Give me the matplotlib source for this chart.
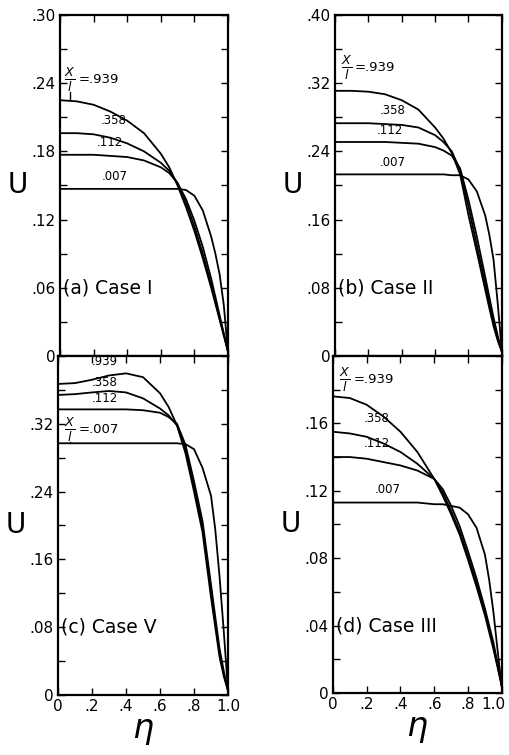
import numpy as np
import matplotlib
matplotlib.use('Agg')
import matplotlib.pyplot as plt
import matplotlib.transforms as mtransforms


# axial positions X/l and radial grid
XL = ['.939', '.358', '.112', '.007']
ETA = [0, .1, .2, .3, .4, .5, .6, .65, .7, .75, .8, .85, .9, .925, .95, .975, 1.0]

# (a) Case I
U_A = {
	'.939': [.225, .224, .221, .215, .207, .196, .178, .166, .150, .131, .110, .086, .060, .046, .032, .018, .004],
	'.358': [.196, .196, .195, .192, .187, .180, .170, .163, .152, .135, .114, .090, .063, .048, .033, .019, .004],
	'.112': [.177, .177, .177, .176, .175, .172, .166, .161, .152, .138, .119, .096, .068, .052, .036, .020, .004],
	'.007': [.147, .147, .147, .147, .147, .147, .147, .147, .147, .146, .141, .128, .105, .090, .072, .045, .003],
}
# (b) Case II
U_B = {
	'.939': [.311, .311, .310, .307, .300, .289, .268, .255, .238, .213, .165, .122, .078, .056, .035, .018, .005],
	'.358': [.273, .273, .273, .272, .271, .268, .259, .251, .240, .218, .175, .130, .085, .062, .040, .021, .005],
	'.112': [.251, .251, .251, .251, .250, .249, .245, .241, .235, .220, .183, .140, .093, .069, .045, .024, .005],
	'.007': [.213, .213, .213, .213, .213, .213, .213, .213, .212, .212, .207, .193, .165, .142, .113, .062, .005],
}
# (c) Case V
U_C = {
	'.939': [.367, .368, .372, .377, .3795, .375, .356, .340, .318, .285, .240, .192, .115, .080, .045, .022, .005],
	'.358': [.354, .355, .357, .3587, .357, .350, .338, .330, .318, .290, .245, .198, .122, .086, .050, .025, .005],
	'.112': [.337, .337, .337, .337, .337, .336, .333, .328, .320, .295, .252, .205, .130, .092, .055, .028, .005],
	'.007': [.297, .297, .297, .297, .297, .297, .297, .297, .297, .296, .290, .268, .235, .195, .140, .075, .005],
}
# (d) Case III
U_D = {
	'.939': [.176, .175, .171, .164, .155, .143, .127, .117, .106, .094, .079, .063, .046, .036, .026, .015, .004],
	'.358': [.155, .154, .152, .148, .143, .136, .127, .119, .108, .096, .081, .065, .048, .038, .028, .016, .004],
	'.112': [.140, .140, .139, .137, .135, .132, .127, .121, .111, .099, .084, .068, .050, .040, .030, .017, .004],
	'.007': [.113, .113, .113, .113, .113, .113, .112, .112, .111, .110, .106, .098, .082, .067, .048, .025, .003],
}

PANELS = [
	# data, rect, ymax, ystep, ylabels, title, title_y
	(U_A, [0.1179, 0.5285, 0.330, 0.4517], 0.30, 0.03, ['0', '.06', '.12', '.18', '.24', '.30'], '(a) Case I', 0.06),
	(U_B, [0.658, 0.5285, 0.328, 0.4517], 0.40, 0.04, ['0', '.08', '.16', '.24', '.32', '.40'], '(b) Case II', 0.08),
	(U_C, [0.114, 0.0795, 0.334, 0.449], 0.40, 0.04, ['0', '.08', '.16', '.24', '.32', ''], '(c) Case V', 0.08),
	(U_D, [0.654, 0.0821, 0.332, 0.4465], 0.20, 0.02, ['0', '.04', '.08', '.12', '.16', ''], '(d) Case III', 0.04),
]

# curve labels: (x, y) per panel
LABEL_POS = [
	{'.358': (.24, .2015), '.112': (.22, .1825), '.007': (.25, .152)},
	{'.358': (.27, .280), '.112': (.25, .257), '.007': (.27, .219)},
	{'.939': (.20, .386), '.358': (.20, .361), '.112': (.20, .342)},
	{'.358': (.18, .159), '.112': (.18, .144), '.007': (.25, .117)},
]
# X/l annotations: (label, x, y, curve value)
XL_NOTE = [
	('.939', .06, .243, .225),
	('.939', .07, .338, None),
	('.007', .07, .313, .297),
	('.939', .07, .186, None),
]

fig = plt.figure(figsize = (5.09, 7.55), dpi = 100)

for i, (data, rect, ymax, ystep, ylabels, title, title_y) in enumerate(PANELS):
	ax = fig.add_axes(rect)
	for key in XL:
		ax.plot(ETA, data[key], color = 'black', lw = 1.3)

	ax.set_xlim(0, 1.0)
	ax.set_ylim(0, ymax)
	ax.set_xticks([0, .2, .4, .6, .8, 1.0])
	ax.set_yticks(np.arange(0, ymax + 1e-9, 2 * ystep))
	ax.set_yticks(np.arange(0, ymax + 1e-9, ystep), minor = True)
	ax.set_yticklabels(ylabels, fontsize = 11)
	if i >= 2:
		ax.set_xticklabels(['0', '.2', '.4', '.6', '.8', '1.0'], fontsize = 11)
		ax.set_xlabel(r'$\eta$', fontsize = 24, labelpad = 0)
	else:
		ax.set_xticklabels([])
	ax.tick_params(which = 'both', direction = 'in', top = True, right = True, length = 5, width = 1, pad = 3)
	for sp in ax.spines.values():
		sp.set_linewidth(1.6)
	ax.set_ylabel('U', fontsize = 20, rotation = 0, labelpad = 10, va = 'center')

	if i == 3:
		# keep "1.0" inside the figure
		last = ax.get_xticklabels()[-1]
		last.set_transform(last.get_transform() + mtransforms.ScaledTranslation(-6 / 72, 0, fig.dpi_scale_trans))

	ax.text(0.02, title_y, title, fontsize = 13.5, va = 'center')

	for key, (x, y) in LABEL_POS[i].items():
		ax.text(x, y, key, fontsize = 8.5, va = 'bottom', ha = 'left')

	lab, x, y, u = XL_NOTE[i]
	ax.text(x, y, r'$\frac{X}{l}$', fontsize = 13, ha = 'center', va = 'center')
	ax.text(x + 0.05, y, '=' + lab, fontsize = 9.5, ha = 'left', va = 'center')
	if u is not None:
		ax.plot([x, x], [u, y - ystep * 0.35], color = 'black', lw = 1)

fig.savefig('out.png', dpi = 100)
